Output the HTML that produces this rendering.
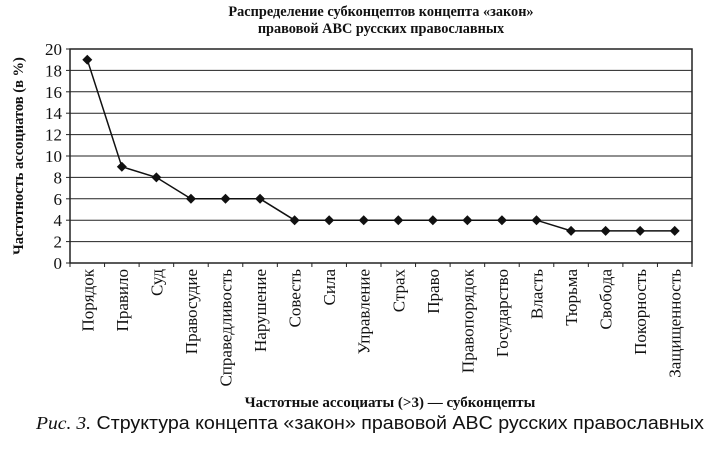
<!DOCTYPE html>
<html><head><meta charset="utf-8"><style>
body{margin:0;background:#fff;width:710px;height:444px;overflow:hidden}
svg text{font-family:"Liberation Serif",serif;fill:#111}
</style></head><body>
<svg width="710" height="444">
<text x="381" y="16" text-anchor="middle" font-weight="bold" font-size="14.3">Распределение субконцептов концепта «закон»</text>
<text x="381" y="33" text-anchor="middle" font-weight="bold" font-size="14.3">правовой ABC русских православных</text>
<g id="grid"></g><g id="axes"></g><g id="series"></g>
<text transform="translate(23,156) rotate(-90)" text-anchor="middle" font-weight="bold" font-size="14.5">Частотность ассоциатов (в %)</text>
<text x="390" y="407" text-anchor="middle" font-weight="bold" font-size="15">Частотные ассоциаты (&gt;3) — субконцепты</text>
<text x="36" y="429" font-size="18" textLength="668" lengthAdjust="spacingAndGlyphs"><tspan font-style="italic">Рис. 3.</tspan><tspan font-family="Liberation Sans, sans-serif"> Структура концепта «закон» правовой ABC русских православных</tspan></text>
</svg>
<script>
const categories=["Порядок","Правило","Суд","Правосудие","Справедливость","Нарушение","Совесть","Сила","Управление","Страх","Право","Правопорядок","Государство","Власть","Тюрьма","Свобода","Покорность","Защищенность"];
const values=[19,9,8,6,6,6,4,4,4,4,4,4,4,4,3,3,3,3];
const yTicks=[0,2,4,6,8,10,12,14,16,18,20];
const NS="http://www.w3.org/2000/svg";
const L=70,R=692,T=49,B=263,yMax=20;
const n=categories.length,step=(R-L)/n;
const x=i=>L+step*(i+0.5), y=v=>B-(v/yMax)*(B-T);
function mk(tag,attrs,parent){const e=document.createElementNS(NS,tag);for(const k in attrs)e.setAttribute(k,attrs[k]);document.querySelector(parent).appendChild(e);return e;}
yTicks.forEach(t=>{
 if(t>0){const g=mk('line',{x1:L,x2:R,y1:y(t),y2:y(t),stroke:'#222','stroke-width':1},'#grid');
 
 }
 const tk=mk('line',{x1:L-4,x2:L,y1:y(t),y2:y(t),stroke:'#222'},'#axes');
 
 
 const lb=mk('text',{x:L-8,y:y(t)+6,'text-anchor':'end','font-size':17},'#axes');lb.textContent=t;
 
 
});
const fr=mk('rect',{x:L,y:T,width:R-L,height:B-T,fill:'none',stroke:'#222','stroke-width':1.5},'#axes');


for(let i=0;i<=n;i++){const tk=mk('line',{x1:L+step*i,x2:L+step*i,y1:B,y2:B+4,stroke:'#222'},'#axes');
 
 }
categories.forEach((c,i)=>{const t=mk('text',{transform:`translate(${x(i)+6},269) rotate(-90)`,'text-anchor':'end','font-size':17},'#axes');t.textContent=c;
 
 });
const pl=mk('polyline',{points:values.map((v,i)=>x(i)+','+y(v)).join(' '),fill:'none',stroke:'#111','stroke-width':1.5},'#series');


values.forEach((v,i)=>{const d=5;const p=mk('polygon',{points:`${x(i)},${y(v)-d} ${x(i)+d},${y(v)} ${x(i)},${y(v)+d} ${x(i)-d},${y(v)}`,fill:'#111'},'#series');
 
 });
</script>
</body></html>
